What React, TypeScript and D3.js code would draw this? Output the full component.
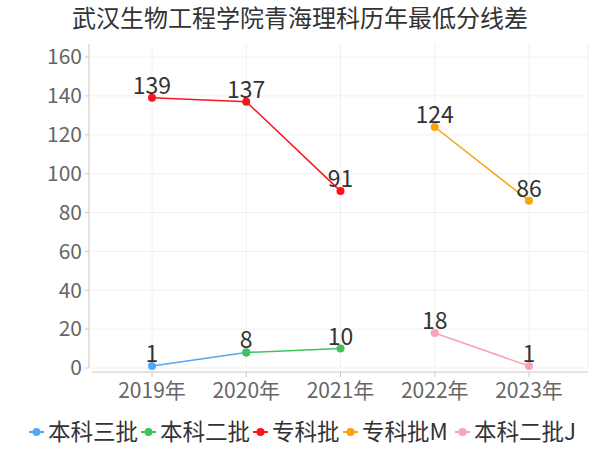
import React from "react";
import * as d3 from "d3";

const categories = ["2019年", "2020年", "2021年", "2022年", "2023年"];
const seriesNames = ["本科三批", "本科二批", "专科批", "专科批M", "本科二批J"];
const seriesColors = ["#52a8f3", "#40c45a", "#f8141e", "#f9a20c", "#f7a4b6"];
const s1: (number | null)[] = [1, 8, null, null, null];
const s2: (number | null)[] = [null, 8, 10, null, null];
const s3: (number | null)[] = [139, 137, 91, null, null];
const s4: (number | null)[] = [null, null, null, 124, 86];
const s5: (number | null)[] = [null, null, null, 18, 1];
const yTicks = [0, 20, 40, 60, 80, 100, 120, 140, 160];
const title = "武汉生物工程学院青海理科历年最低分线差";

const seriesValues = [s1, s2, s3, s4, s5];
const showLabel = [
  [true, true, false, false, false],
  [false, false, true, false, false],
  [true, true, true, false, false],
  [false, false, false, true, true],
  [false, false, false, true, true],
];

const FONT = "'Noto Sans CJK SC', 'Noto Sans', sans-serif";

export default function App() {
  const W = 600, H = 450;
  const left = 89, right = 588, top = 44, bottom = 368;
  const x = d3.scalePoint<string>().domain(categories).range([152, 529]);
  const y = d3.scaleLinear().domain([0, 160]).range([368, 57]);

  const line = d3
    .line<{ c: string; v: number | null }>()
    .defined((d) => d.v !== null)
    .x((d) => x(d.c) as number)
    .y((d) => y(d.v as number));

  const legendY = 432;
  const legendStarts = [29, 141, 253, 343, 455];

  return (
    <svg width={W} height={H} style={{ position: "absolute", left: 0, top: 0, background: "#fff" }} fontFamily={FONT}>
      <text x={300} y={27} textAnchor="middle" fontSize={24} fill="#333">{title}</text>

      {yTicks.map((t) => (
        <line key={"hg" + t} x1={92} x2={right} y1={y(t)} y2={y(t)} stroke="#f0f0f0" strokeWidth={1} />
      ))}
      {categories.map((c) => (
        <line key={"vg" + c} x1={x(c)} x2={x(c)} y1={top} y2={bottom} stroke="#f0f0f0" strokeWidth={1} />
      ))}
      <line x1={right} x2={right} y1={top} y2={bottom} stroke="#f0f0f0" strokeWidth={1} />

      <line x1={left} x2={left} y1={top} y2={bottom} stroke="#c8c8c8" strokeWidth={1} />
      {yTicks.map((t) => (
        <g key={"yt" + t}>
          <line x1={left - 4} x2={left} y1={y(t)} y2={y(t)} stroke="#c8c8c8" />
          <text x={82} y={y(t)} dy="0.35em" textAnchor="end" fontSize={21} fill="#666">{t}</text>
        </g>
      ))}

      <line x1={92} x2={right} y1={372} y2={372} stroke="#c8c8c8" strokeWidth={1} />
      {categories.map((c) => (
        <g key={"xt" + c}>
          <line x1={x(c)} x2={x(c)} y1={372} y2={377} stroke="#c8c8c8" />
          <text x={x(c)} y={398} textAnchor="middle" fontSize={21} fill="#666">{c}</text>
        </g>
      ))}

      {seriesValues.map((vals, si) => {
        const data = categories.map((c, i) => ({ c, v: vals[i] }));
        return (
          <g key={"s" + si}>
            <path d={line(data) || ""} fill="none" stroke={seriesColors[si]} strokeWidth={1.5} />
            {data.map((d, i) =>
              d.v === null ? null : (
                <circle key={i} cx={x(d.c)} cy={y(d.v)} r={4} fill={seriesColors[si]} />
              )
            )}
          </g>
        );
      })}
      {seriesValues.map((vals, si) =>
        categories.map((c, i) =>
          vals[i] !== null && showLabel[si][i] ? (
            <text key={"l" + si + i} x={x(c)} y={y(vals[i] as number) - 4} textAnchor="middle" fontSize={23} fill="#333">
              {vals[i]}
            </text>
          ) : null
        )
      )}

      {seriesNames.map((n, i) => (
        <g key={"lg" + i} transform={`translate(${legendStarts[i]},${legendY})`}>
          <line x1={0} x2={15} y1={0} y2={0} stroke={seriesColors[i]} strokeWidth={2} />
          <circle cx={7.5} cy={0} r={4} fill={seriesColors[i]} />
          <text x={19} y={0} dy="0.35em" fontSize={22.5} fill="#333">{n}</text>
        </g>
      ))}
    </svg>
  );
}
